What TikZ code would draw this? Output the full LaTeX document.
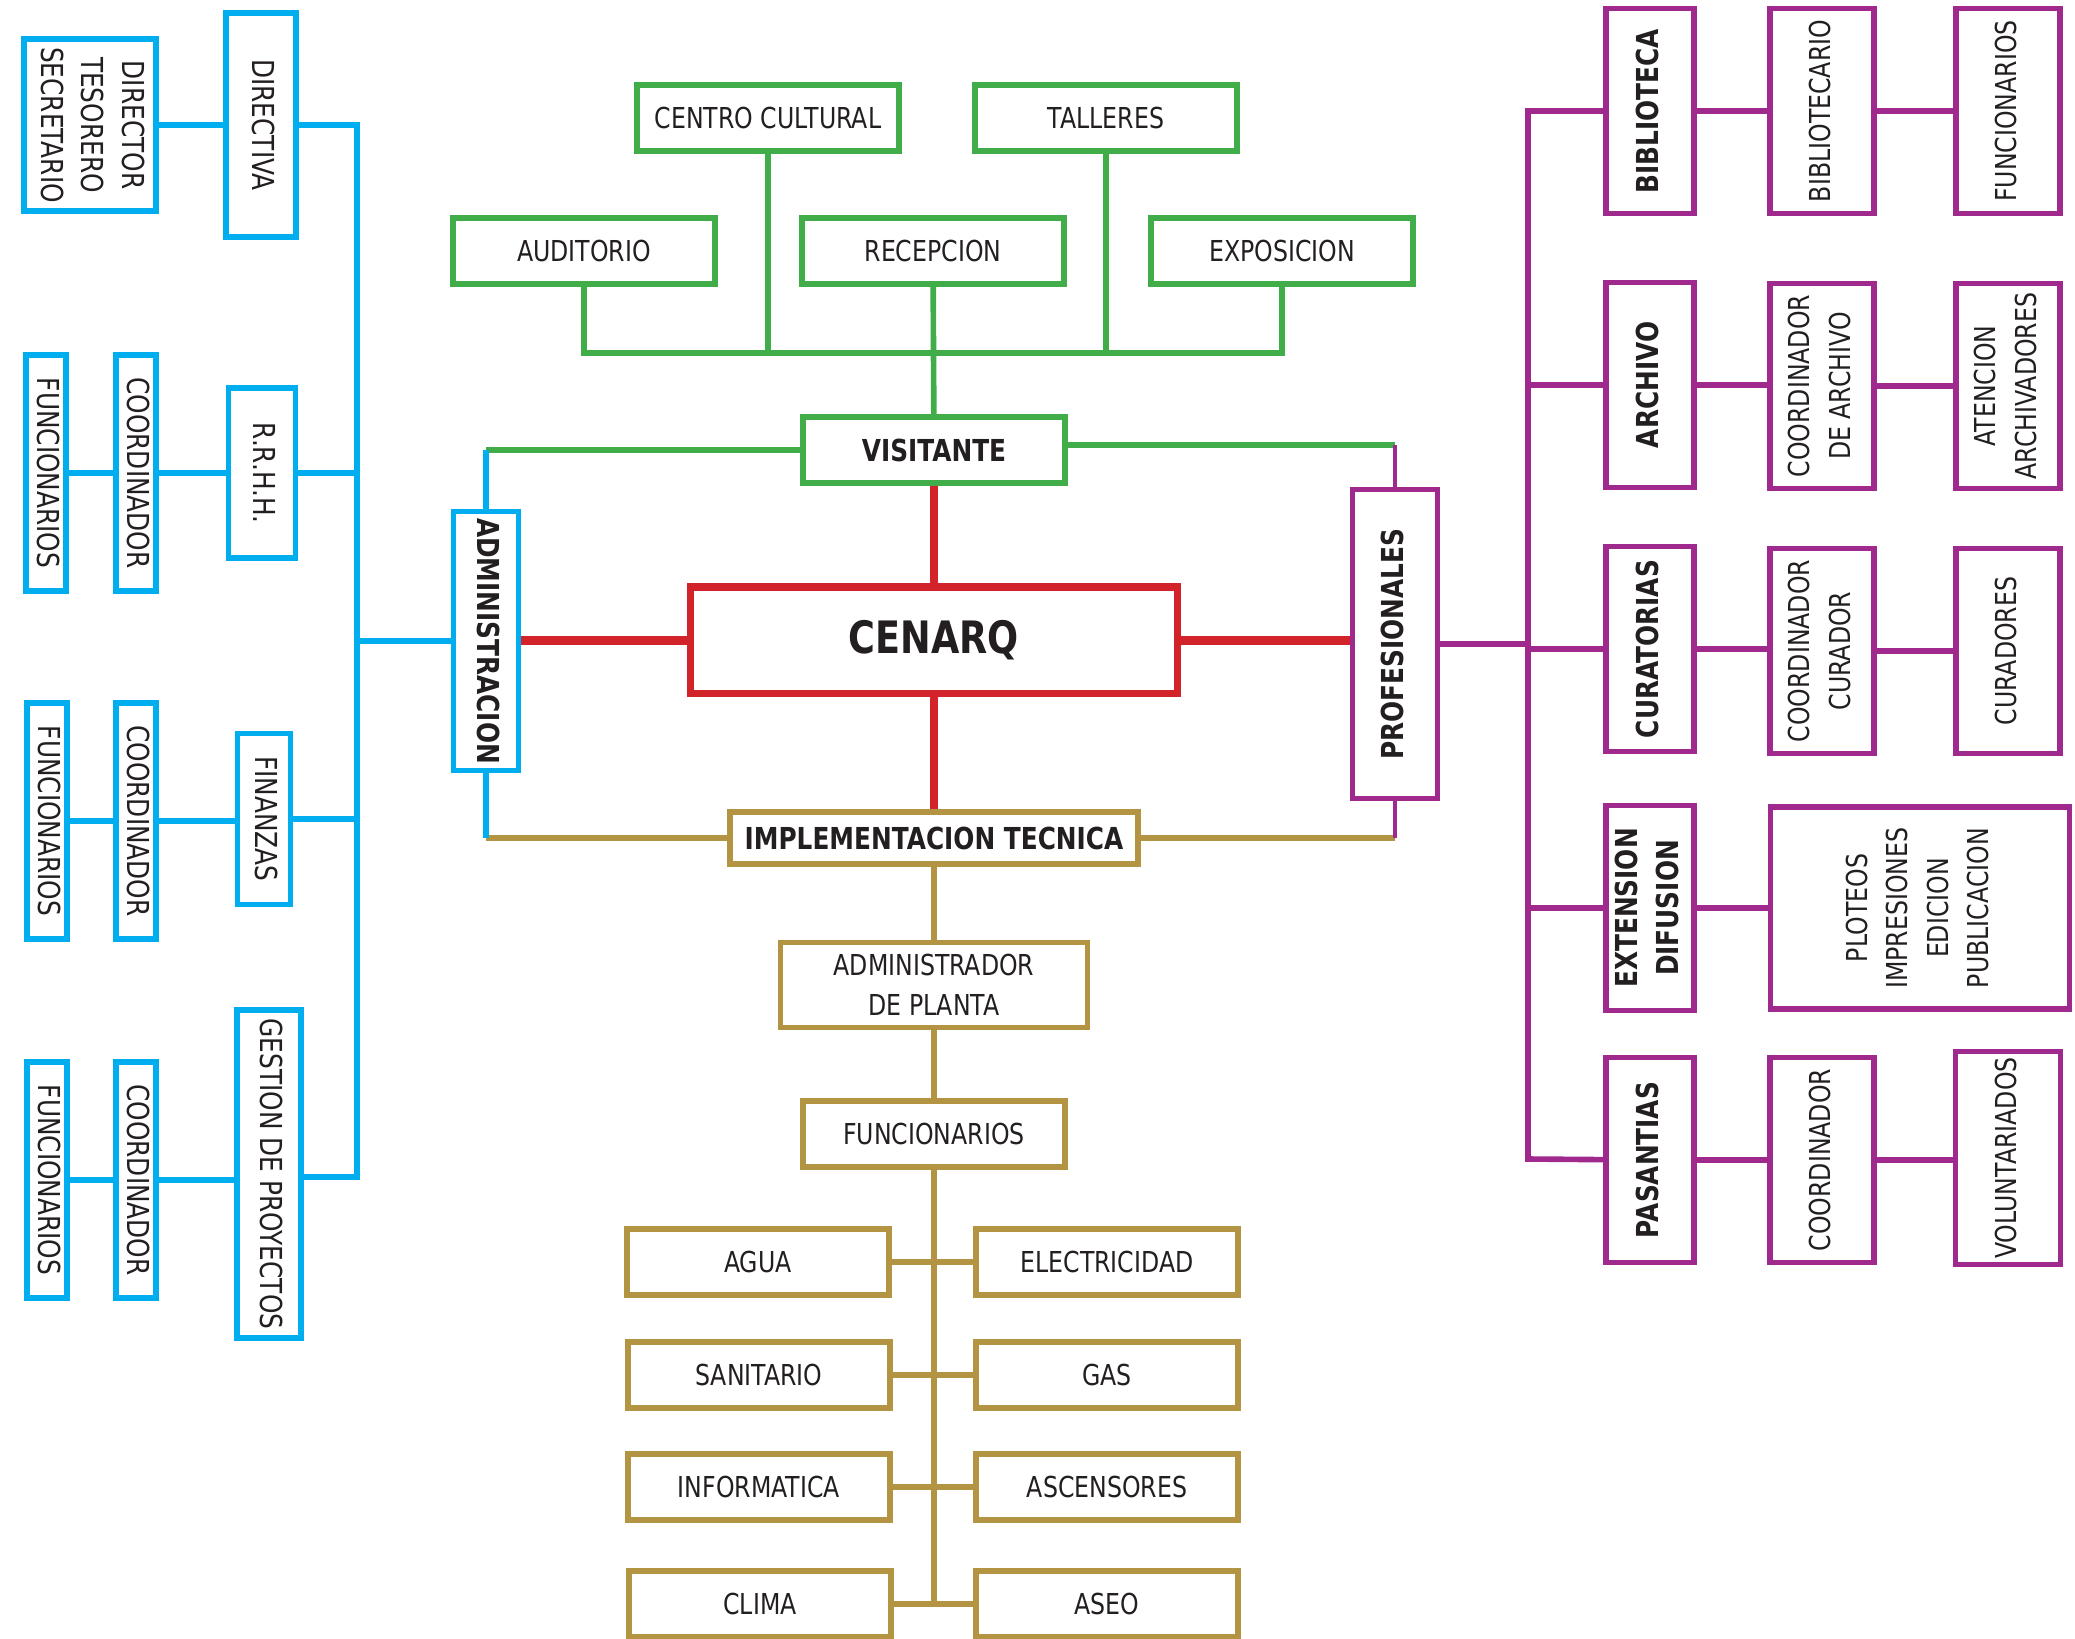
\documentclass[tikz,border=0pt]{standalone}
\usepackage{fontspec}
\setmainfont{DejaVu Sans}[FakeStretch=0.82]

\definecolor{cblue}{RGB}{0,174,239}
\definecolor{cgreen}{RGB}{65,173,73}
\definecolor{cred}{RGB}{210,35,42}
\definecolor{cpurple}{RGB}{160,41,142}
\definecolor{cgold}{RGB}{178,148,66}
\definecolor{ctext}{RGB}{35,31,32}

\newcommand{\txtdown}[1]{\rotatebox{-90}{\begin{tabular}{@{}c@{}}#1\end{tabular}}}
\newcommand{\txtup}[1]{\rotatebox{90}{\begin{tabular}{@{}c@{}}#1\end{tabular}}}

\tikzset{
  box/.style={draw, fill=white, inner sep=0pt, line width=1.5pt, text=ctext,
    align=center, font=\fontsize{8.2}{11.4}\selectfont},
  boldtxt/.style={font=\fontsize{8.6}{11.4}\selectfont\bfseries},
  bbox/.style={box, draw=cblue, font=\fontsize{8.6}{11.4}\selectfont},
  gbox/.style={box, draw=cgreen, minimum width=2.62cm, minimum height=0.66cm},
  obox/.style={box, draw=cgold},
  pbox/.style={box, draw=cpurple},
  rbox/.style={box, draw=cred, line width=2pt},
  narrow/.style={minimum width=0.37cm, minimum height=2.36cm},
  wide/.style={minimum width=2.62cm, minimum height=0.66cm},
  pcol/.style={minimum width=1.04cm, minimum height=2.05cm},
  phead/.style={minimum width=0.88cm, minimum height=2.05cm},
  bl/.style={cblue, line width=1.6pt},
  gl/.style={cgreen, line width=1.6pt},
  ol/.style={cgold, line width=1.6pt},
  pl/.style={cpurple, line width=1.6pt},
  rl/.style={cred, line width=2.56pt},
  rlt/.style={cred, line width=2.2pt}
}

\begin{document}
\begin{tikzpicture}[x=0.01cm, y=-0.01cm]
  \path[use as bounding box, fill=white] (0,0) rectangle (2075,1638);

  % center
  \node[rbox, minimum width=4.86cm, minimum height=1.06cm,
        font=\fontsize{12.7}{14}\selectfont\bfseries] (cenarq) at (934,640) {CENARQ};
  \node[gbox, boldtxt] (visitante) at (934,450) {VISITANTE};
  \node[obox, boldtxt, minimum width=4.08cm, minimum height=0.52cm] (impl) at (934,838) {IMPLEMENTACION TECNICA};
  \node[bbox, boldtxt, minimum width=0.65cm, minimum height=2.59cm] (admin) at (486,641) {\txtdown{ADMINISTRACION}};
  \node[pbox, boldtxt, minimum width=0.85cm, minimum height=3.09cm] (prof) at (1395,644) {\txtup{PROFESIONALES}};

  \draw[rlt] (visitante) -- (cenarq);
  \draw[rlt] (cenarq) -- (impl);
  \draw[rl] (cenarq) -- (cenarq -| admin.east);
  \draw[rl] (cenarq) -- (cenarq -| prof.west);

  \coordinate (vl) at (486,450);
  \coordinate (vr) at (1395,445);
  \coordinate (il) at (486,838);
  \coordinate (ir) at (1395,838);
  \draw[gl] (visitante) -- (vl);
  \draw[bl, line width=1.5pt] (vl) -- (admin);
  \draw[gl] (visitante.east |- vr) -- (vr);
  \draw[pl, line width=1.2pt] (vr) -- (prof);
  \draw[ol] (impl) -- (il);
  \draw[bl, line width=1.5pt] (il) -- (admin);
  \draw[ol] (impl) -- (ir);
  \draw[pl, line width=1.2pt] (ir) -- (prof);

  % visitante
  \node[gbox] (cc) at (768,118) {CENTRO CULTURAL};
  \node[gbox] (talleres) at (1106,118) {TALLERES};
  \node[gbox] (auditorio) at (584,251) {AUDITORIO};
  \node[gbox] (recepcion) at (933,251) {RECEPCION};
  \node[gbox] (exposicion) at (1282,251) {EXPOSICION};
  \coordinate (gbus) at (933,353);
  \draw[gl] (auditorio) -- (auditorio |- gbus) -- (exposicion |- gbus) -- (exposicion);
  \draw[gl] (cc) -- (cc |- gbus);
  \draw[gl] (talleres) -- (talleres |- gbus);
  \draw[gl] (recepcion) -- (visitante);

  % implementacion tecnica
  \node[obox, minimum width=3.07cm, minimum height=0.85cm] (adp) at (934,985) {ADMINISTRADOR\\DE PLANTA};
  \node[obox, wide] (funcg) at (934,1134) {FUNCIONARIOS};
  \node[obox, wide] (agua) at (758,1262) {AGUA};
  \node[obox, wide] (elec) at (1107,1262) {ELECTRICIDAD};
  \node[obox, wide] (sanit) at (759,1375) {SANITARIO};
  \node[obox, wide] (gas) at (1107,1375) {GAS};
  \node[obox, wide] (info) at (759,1487) {INFORMATICA};
  \node[obox, wide] (asc) at (1107,1487) {ASCENSORES};
  \node[obox, wide] (clima) at (760,1604) {CLIMA};
  \node[obox, wide] (aseo) at (1107,1604) {ASEO};
  \coordinate (obus) at (934,1604);
  \draw[ol] (impl) -- (adp);
  \draw[ol] (adp) -- (funcg);
  \draw[ol] (funcg) -- (obus);
  \draw[ol] (agua) -- (elec);
  \draw[ol] (sanit) -- (gas);
  \draw[ol] (info) -- (asc);
  \draw[ol] (clima) -- (aseo);

  % administracion
  \node[bbox, minimum width=1.32cm, minimum height=1.72cm] (dts) at (90,125) {\txtdown{DIRECTOR\\TESORERO\\SECRETARIO}};
  \node[bbox, minimum width=0.70cm, minimum height=2.24cm] (directiva) at (261,125) {\txtdown{DIRECTIVA}};
  \node[bbox, narrow] (func1) at (46,473) {\txtdown{FUNCIONARIOS}};
  \node[bbox, narrow] (coord1) at (136,473) {\txtdown{COORDINADOR}};
  \node[bbox, minimum width=0.67cm, minimum height=1.70cm] (rrhh) at (262,473) {\txtdown{R.R.H.H.}};
  \node[bbox, narrow] (func2) at (47,821) {\txtdown{FUNCIONARIOS}};
  \node[bbox, narrow] (coord2) at (136,821) {\txtdown{COORDINADOR}};
  \node[bbox, minimum width=0.53cm, minimum height=1.71cm] (finanzas) at (264,819) {\txtdown{FINANZAS}};
  \node[bbox, narrow] (func3) at (47,1180) {\txtdown{FUNCIONARIOS}};
  \node[bbox, narrow] (coord3) at (136,1180) {\txtdown{COORDINADOR}};
  \node[bbox, minimum width=0.64cm, minimum height=3.28cm] (gestion) at (269,1174) {\txtdown{GESTION DE PROYECTOS}};

  \coordinate (lbtop) at (357,125);
  \coordinate (lbbot) at (357,1177);
  \draw[bl] (dts) -- (directiva);
  \draw[bl] (func1) -- (coord1);
  \draw[bl] (coord1) -- (rrhh);
  \draw[bl] (func2) -- (coord2);
  \draw[bl] (coord2) -- (coord2 -| finanzas.west);
  \draw[bl] (func3) -- (coord3);
  \draw[bl] (coord3) -- (coord3 -| gestion.west);
  \draw[bl] (directiva) -- (lbtop) -- (lbbot) -- (lbbot -| gestion.east);
  \draw[bl] (rrhh) -- (rrhh -| lbtop);
  \draw[bl] (finanzas) -- (finanzas -| lbtop);
  \draw[bl] (admin) -- (admin -| lbtop);

  % profesionales
  \node[pbox, boldtxt, phead] (bib) at (1650,111) {\txtup{BIBLIOTECA}};
  \node[pbox, pcol] (bibl) at (1822,111) {\txtup{BIBLIOTECARIO}};
  \node[pbox, pcol] (func4) at (2008,111) {\txtup{FUNCIONARIOS}};
  \node[pbox, boldtxt, phead] (arch) at (1650,385) {\txtup{ARCHIVO}};
  \node[pbox, pcol] (coordarch) at (1822,386) {\txtup{COORDINADOR\\DE ARCHIVO}};
  \node[pbox, pcol] (aten) at (2008,386) {\txtup{ATENCION\\ARCHIVADORES}};
  \node[pbox, boldtxt, phead] (cura) at (1650,649) {\txtup{CURATORIAS}};
  \node[pbox, pcol] (coordcur) at (1822,651) {\txtup{COORDINADOR\\CURADOR}};
  \node[pbox, pcol] (curadores) at (2008,651) {\txtup{CURADORES}};
  \node[pbox, boldtxt, phead] (ext) at (1650,908) {\txtup{EXTENSION\\DIFUSION}};
  \node[pbox, minimum width=2.99cm, minimum height=2.02cm] (plot) at (1920,908) {\txtup{PLOTEOS\\IMPRESIONES\\EDICION\\PUBLICACION}};
  \node[pbox, boldtxt, phead] (pas) at (1650,1160) {\txtup{PASANTIAS}};
  \node[pbox, pcol] (coordpas) at (1822,1160) {\txtup{COORDINADOR}};
  \node[pbox, minimum width=1.05cm, minimum height=2.13cm] (volunt) at (2008,1158) {\txtup{VOLUNTARIADOS}};

  \coordinate (rbtop) at (1528,111);
  \coordinate (rbbot) at (1528,1159);
  \draw[pl] (bib) -- (bibl);
  \draw[pl] (bibl) -- (func4);
  \draw[pl] (arch) -- (coordarch.west |- arch);
  \draw[pl] (coordarch) -- (aten);
  \draw[pl] (cura) -- (coordcur.west |- cura);
  \draw[pl] (coordcur) -- (curadores);
  \draw[pl] (ext) -- (plot.west |- ext);
  \draw[pl] (pas) -- (coordpas);
  \draw[pl] (coordpas) -- (volunt.west |- coordpas);
  \draw[pl] (bib) -- (rbtop) -- (rbbot) -- (pas);
  \draw[pl] (arch) -- (arch -| rbtop);
  \draw[pl] (cura) -- (cura -| rbtop);
  \draw[pl] (ext) -- (ext -| rbtop);
  \draw[pl] (prof) -- (prof -| rbtop);
\end{tikzpicture}
\end{document}
